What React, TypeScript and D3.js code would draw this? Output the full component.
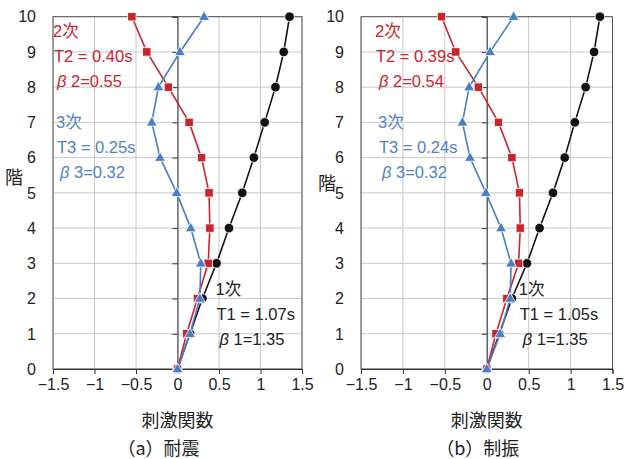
import { useEffect, useRef } from 'react';
import * as d3 from 'd3';

// floors 0..10
const floors = [0, 1, 2, 3, 4, 5, 6, 7, 8, 9, 10];
const xTicks = [-1.5, -1, -0.5, 0, 0.5, 1, 1.5];

// (a) 耐震
const mode1A = [0, 0.15, 0.30, 0.47, 0.62, 0.78, 0.92, 1.05, 1.18, 1.28, 1.35];
const mode2A = [0, 0.11, 0.24, 0.37, 0.39, 0.38, 0.29, 0.14, -0.11, -0.37, -0.55];
const mode3A = [0, 0.15, 0.27, 0.28, 0.16, -0.01, -0.21, -0.31, -0.23, 0.03, 0.32];

// (b) 制振
const mode1B = [0, 0.15, 0.30, 0.48, 0.63, 0.79, 0.93, 1.05, 1.18, 1.28, 1.35];
const mode2B = [0, 0.11, 0.24, 0.38, 0.40, 0.39, 0.30, 0.14, -0.10, -0.37, -0.54];
const mode3B = [0, 0.16, 0.28, 0.29, 0.17, -0.01, -0.20, -0.29, -0.21, 0.04, 0.32];

const labelsA = {
    m1: ['1次', 'T1 = 1.07s', 'β 1=1.35'],
    m2: ['2次', 'T2 = 0.40s', 'β 2=0.55'],
    m3: ['3次', 'T3 = 0.25s', 'β 3=0.32'],
};
const labelsB = {
    m1: ['1次', 'T1 = 1.05s', 'β 1=1.35'],
    m2: ['2次', 'T2 = 0.39s', 'β 2=0.54'],
    m3: ['3次', 'T3 = 0.24s', 'β 3=0.32'],
};

const RED = '#c8262d';
const BLUE = '#4a7dc1';
const BLUE_TEXT = '#4f82c6';
const BLACK = '#111111';
const FONT = '"Liberation Sans", "Noto Sans CJK JP", sans-serif';
const CJK = '"Noto Sans CJK JP", sans-serif';

interface PanelSpec {
    left: number;
    right: number;
    m1: number[];
    m2: number[];
    m3: number[];
    labels: typeof labelsA;
    caption: string;
}

const panels: PanelSpec[] = [
    { left: 53, right: 302, m1: mode1A, m2: mode2A, m3: mode3A, labels: labelsA, caption: '（a）耐震' },
    { left: 361, right: 612.5, m1: mode1B, m2: mode2B, m3: mode3B, labels: labelsB, caption: '（b）制振' },
];

export default function App() {
    const svgRef = useRef<SVGSVGElement>(null);

    useEffect(() => {
        if (!svgRef.current) return;
        const svg = d3.select(svgRef.current);
        svg.selectAll('*').remove();

        const top = 16.7;
        const bottom = 369;

        panels.forEach((p) => {
            const x = d3.scaleLinear().domain([-1.5, 1.5]).range([p.left, p.right]);
            const y = d3.scaleLinear().domain([0, 10]).range([bottom, top]);
            const g = svg.append('g').style('font-family', FONT);

            // grid
            g.append('g')
                .selectAll('line')
                .data(xTicks)
                .enter()
                .append('line')
                .attr('x1', d => x(d)).attr('x2', d => x(d))
                .attr('y1', top).attr('y2', bottom)
                .attr('stroke', '#c8c8c8').attr('stroke-width', 1);
            g.append('g')
                .selectAll('line')
                .data(floors)
                .enter()
                .append('line')
                .attr('x1', p.left).attr('x2', p.right)
                .attr('y1', d => y(d)).attr('y2', d => y(d))
                .attr('stroke', '#c8c8c8').attr('stroke-width', 1);

            // frame
            g.append('rect')
                .attr('x', p.left).attr('y', top)
                .attr('width', p.right - p.left).attr('height', bottom - top)
                .attr('fill', 'none').attr('stroke', '#555').attr('stroke-width', 1);

            // x axis
            g.append('g')
                .attr('transform', `translate(0,${bottom})`)
                .call(d3.axisBottom(x).tickValues(xTicks).tickSize(5).tickPadding(5)
                    .tickFormat(d => d3.format('')(d as number).replace('-', '−')))
                .call(a => a.select('.domain').attr('stroke', '#333'))
                .call(a => a.selectAll('.tick line').attr('stroke', '#333'))
                .call(a => a.selectAll('.tick text')
                    .attr('fill', '#222').attr('font-size', '16px').attr('font-family', FONT));

            // y axis at x = 0 (ticks only)
            g.append('g')
                .attr('transform', `translate(${x(0)},0)`)
                .call(d3.axisLeft(y).tickValues(floors).tickSize(5).tickFormat(() => ''))
                .call(a => a.select('.domain').attr('stroke', '#333'))
                .call(a => a.selectAll('.tick line').attr('stroke', '#333'));

            // y labels at left edge
            g.append('g')
                .selectAll('text')
                .data(floors)
                .enter()
                .append('text')
                .attr('x', p.left - 17)
                .attr('y', d => y(d))
                .attr('dy', '0.36em')
                .attr('text-anchor', 'end')
                .attr('font-size', '16px')
                .attr('fill', '#222')
                .text(d => d);

            // series
            const line = d3.line<number>().x(d => x(d)).y((_, i) => y(floors[i]));

            // mode 1 : circles
            g.append('path').datum(p.m1).attr('d', line)
                .attr('fill', 'none').attr('stroke', BLACK).attr('stroke-width', 1.6);
            g.append('g').selectAll('circle').data(p.m1).enter().append('circle')
                .attr('cx', d => x(d)).attr('cy', (_, i) => y(floors[i])).attr('r', 4.8)
                .attr('fill', BLACK).attr('stroke', '#fff').attr('stroke-width', 0.8);

            // mode 2 : squares
            g.append('path').datum(p.m2).attr('d', line)
                .attr('fill', 'none').attr('stroke', RED).attr('stroke-width', 1.6);
            g.append('g').selectAll('rect').data(p.m2).enter().append('rect')
                .attr('x', d => x(d) - 4.2).attr('y', (_, i) => y(floors[i]) - 4.2)
                .attr('width', 8.4).attr('height', 8.4)
                .attr('fill', RED).attr('stroke', '#fff').attr('stroke-width', 0.8);

            // mode 3 : triangles
            const tri = d3.symbol().type(d3.symbolTriangle).size(52);
            g.append('path').datum(p.m3).attr('d', line)
                .attr('fill', 'none').attr('stroke', BLUE).attr('stroke-width', 1.6);
            g.append('g').selectAll('path').data(p.m3).enter().append('path')
                .attr('d', tri)
                .attr('transform', (d, i) => `translate(${x(d)},${y(floors[i]) + 0.5})`)
                .attr('fill', BLUE).attr('stroke', '#fff').attr('stroke-width', 0.8);

            // annotations (β drawn italic like the original)
            const note = (lines: string[], color: string, x0: number, y0: number) => {
                lines.forEach((t, i) => {
                    const txt = g.append('text')
                        .attr('x', x0 + (i === 2 ? 3 : i === 0 ? -1 : 0))
                        .attr('y', y0 + i * 25)
                        .attr('font-size', '16.5px')
                        .attr('fill', color);
                    if (t.startsWith('β')) {
                        txt.append('tspan').attr('font-style', 'italic').text('β');
                        txt.append('tspan').text(t.slice(1));
                    } else {
                        txt.text(t);
                    }
                });
            };
            const off = p.left === 53 ? 0 : 14;
            note(p.labels.m2, RED, p.left + 1 + off, 37);
            note(p.labels.m3, BLUE_TEXT, p.left + 4 + off, 128);
            note(p.labels.m1, '#222', x(0) + 39 - (off ? 6 : 0), 295);

            // axis titles
            const cx = x(0);
            g.append('text')
                .attr('x', cx).attr('y', 427)
                .attr('text-anchor', 'middle')
                .attr('font-family', CJK)
                .attr('font-size', '18px').attr('fill', '#222')
                .text('刺激関数');
            g.append('text')
                .attr('x', cx - 19 + (off ? 10 : 0)).attr('y', 455)
                .attr('text-anchor', 'middle')
                .attr('font-family', CJK)
                .attr('font-size', '18px').attr('fill', '#222')
                .text(p.caption);
            g.append('text')
                .attr('x', p.left - 48 + (off ? 5 : 0)).attr('y', 184 + (off ? 6 : 0))
                .attr('font-family', CJK)
                .attr('font-size', '18px').attr('fill', '#222')
                .text('階');
        });
    }, []);

    return (
        <div style={{ position: 'absolute', left: 0, top: 0 }}>
            <svg ref={svgRef} width={632} height={459} style={{ display: 'block', background: '#fff' }} />
        </div>
    );
}
